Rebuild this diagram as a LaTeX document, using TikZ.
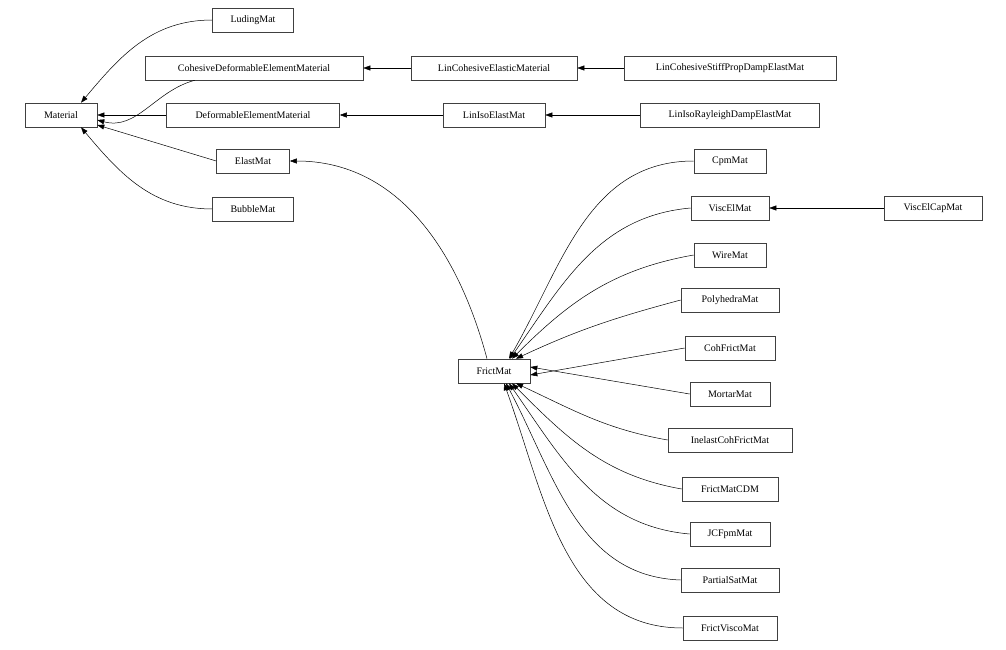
\documentclass[tikz,border=0pt]{standalone}
\usepackage{fontspec}
\setmainfont{Liberation Serif}
\usetikzlibrary{arrows.meta}
\begin{document}
\begin{tikzpicture}[x=1pt,y=-1pt,
  box/.style={draw=black!75,line width=0.6pt,minimum height=24pt,inner sep=0pt,font=\fontsize{10}{12}\selectfont},
  ed/.style={draw=black,line width=0.5pt,-{Triangle[length=7pt,width=5pt]}}]
\useasboundingbox (0,0) rectangle (1006,650);
\node[box,minimum width=72pt] (mat) at (61,115) {Material};
\node[box,minimum width=81pt] (lud) at (253,20) {LudingMat};
\node[box,minimum width=218pt] (cdem) at (254,68) {CohesiveDeformableElementMaterial};
\node[box,minimum width=173pt] (dem) at (253,115) {DeformableElementMaterial};
\node[box,minimum width=73pt] (ela) at (253,161) {ElastMat};
\node[box,minimum width=81pt] (bub) at (253,209) {BubbleMat};
\node[box,minimum width=166pt] (lce) at (494,68) {LinCohesiveElasticMaterial};
\node[box,minimum width=102pt] (lie) at (494,115) {LinIsoElastMat};
\node[box,minimum width=212pt] (lcs) at (730,68) {LinCohesiveStiffPropDampElastMat};
\node[box,minimum width=179pt] (lir) at (730,115) {LinIsoRayleighDampElastMat};
\node[box,minimum width=72pt] (fm) at (494,371) {FrictMat};
\node[box,minimum width=72pt] (cpm) at (730,161) {CpmMat};
\node[box,minimum width=78pt] (vem) at (730,208) {ViscElMat};
\node[box,minimum width=98pt] (vec) at (933,208) {ViscElCapMat};
\node[box,minimum width=72pt] (wir) at (730,255) {WireMat};
\node[box,minimum width=98pt] (pol) at (730,300) {PolyhedraMat};
\node[box,minimum width=90pt] (cfm) at (730,348) {CohFrictMat};
\node[box,minimum width=80pt] (mor) at (730,394) {MortarMat};
\node[box,minimum width=124pt] (icf) at (730,440) {InelastCohFrictMat};
\node[box,minimum width=96pt] (cdm) at (730,489) {FrictMatCDM};
\node[box,minimum width=80pt] (jcf) at (730,534) {JCFpmMat};
\node[box,minimum width=98pt] (psm) at (730,580) {PartialSatMat};
\node[box,minimum width=94pt] (fvm) at (730,628) {FrictViscoMat};

\draw[ed] (lud.west) to[out=180,in=50] ([xshift=20]mat.north);
\draw[ed] ([xshift=50]cdem.south west) to[out=195,in=-15] ([yshift=-5]mat.east);
\draw[ed] (dem.west) -- (mat.east);
\draw[ed] (ela.west) -- ([yshift=-10]mat.east) ;
\draw[ed] (bub.west) to[out=180,in=-50] ([xshift=20]mat.south);
\draw[ed] (lce.west) -- (cdem.east);
\draw[ed] (lie.west) -- (dem.east);
\draw[ed] (lcs.west) -- (lce.east);
\draw[ed] (lir.west) -- (lie.east);
\draw[ed] (vec.west) -- (vem.east);
\draw[ed] ([xshift=-7]fm.north) to[out=105,in=0] (ela.east);
\draw[ed] (cpm.west) to[out=180,in=60] ([xshift=15]fm.north);
\draw[ed] (vem.west) to[out=185,in=55] ([xshift=16]fm.north);
\draw[ed] (wir.west) to[out=190,in=45] ([xshift=18]fm.north);
\draw[ed] (pol.west) to[out=195,in=25] ([xshift=22]fm.north);
\draw[ed] (cfm.west) -- ([yshift=-4]fm.east);
\draw[ed] (mor.west) -- ([yshift=4]fm.east);
\draw[ed] (icf.west) to[out=170,in=-25] ([xshift=22]fm.south);
\draw[ed] (cdm.west) to[out=170,in=-45] ([xshift=18]fm.south);
\draw[ed] (jcf.west) to[out=175,in=-55] ([xshift=15]fm.south);
\draw[ed] (psm.west) to[out=178,in=-62] ([xshift=12]fm.south);
\draw[ed] (fvm.west) to[out=180,in=-70] ([xshift=10]fm.south);
\end{tikzpicture}
\end{document}
